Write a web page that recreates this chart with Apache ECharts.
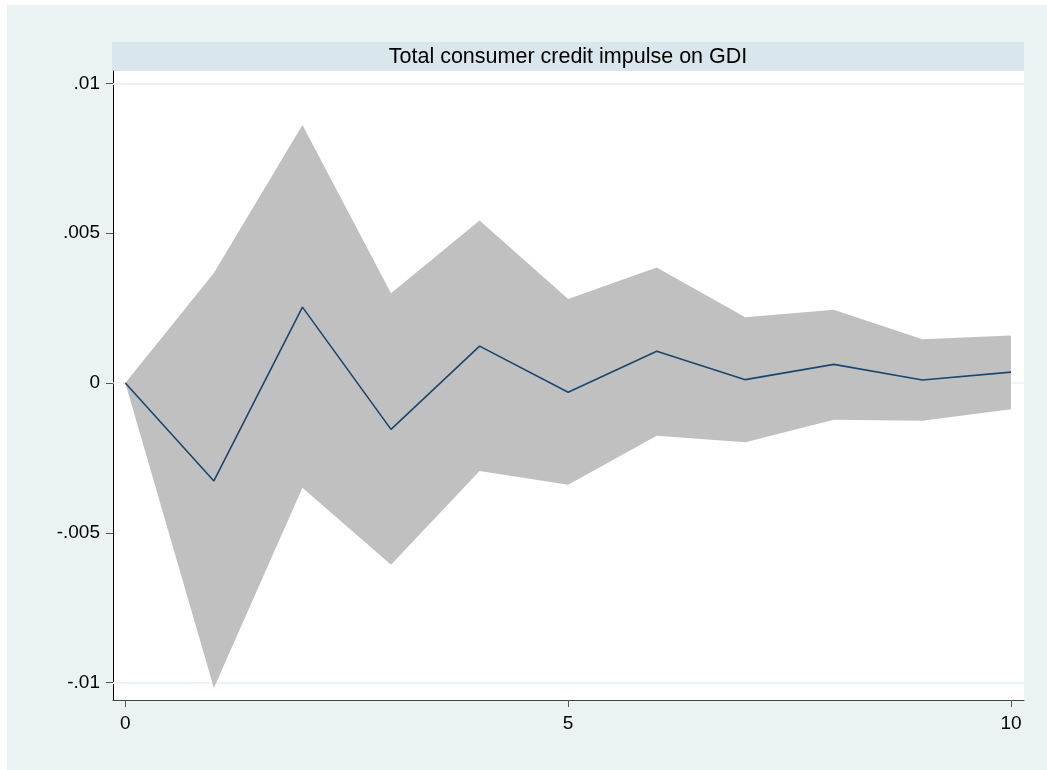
<!DOCTYPE html>
<html>
<head>
  <meta charset="UTF-8">
  <title>Total consumer credit impulse on GDI</title>
  <script src="https://cdn.jsdelivr.net/npm/echarts@6/dist/echarts.min.js"></script>
  <style>
    html, body { margin: 0; padding: 0; background: #fff; }
    #main { width: 1047px; height: 770px; }
  </style>
</head>
<body>
<div id="main"></div>
<script type="text/javascript">
  // step of the response
  var steps = [0, 1, 2, 3, 4, 5, 6, 7, 8, 9, 10];
  // impulse response (irf)
  var irf = [0, -0.00327, 0.00253, -0.00155, 0.00123, -0.00031, 0.00106, 0.00011, 0.00062, 0.0001, 0.00036];
  // confidence band
  var upper = [0, 0.00367, 0.00861, 0.00299, 0.00542, 0.0028, 0.00385, 0.00219, 0.00244, 0.00146, 0.00158];
  var lower = [0, -0.01018, -0.0035, -0.00607, -0.00294, -0.0034, -0.00176, -0.00198, -0.00123, -0.00126, -0.00088];

  var yTicks = [-0.01, -0.005, 0, 0.005, 0.01];
  var yTickLabels = ['-.01', '-.005', '0', '.005', '.01'];
  var xTicks = [0, 5, 10];
  var xTickLabels = ['0', '5', '10'];

  var font = 'Liberation Sans, Arial, Helvetica, sans-serif';

  var lineData = steps.map(function(s, i) { return [s, irf[i]]; });
  var bandData = steps.map(function(s, i) { return [s, lower[i], upper[i]]; });

  var option = {
    animation: false,
    backgroundColor: '#ffffff',
    graphic: [
      { type: 'rect', z: -10, shape: { x: 7, y: 5, width: 1040, height: 765 }, style: { fill: '#EAF2F3' } },
      { type: 'rect', z: -9, shape: { x: 112, y: 42, width: 912, height: 29 }, style: { fill: '#D9E6EB' } },
      {
        type: 'text', z: 10, x: 568, y: 57,
        style: {
          text: 'Total consumer credit impulse on GDI',
          fill: '#000', font: '21.5px ' + font,
          textAlign: 'center', textVerticalAlign: 'middle'
        }
      }
    ],
    grid: {
      left: 113, right: 23, top: 71, bottom: 70,
      show: true, backgroundColor: '#ffffff', borderWidth: 0
    },
    xAxis: {
      type: 'value',
      min: -0.139,
      max: 10.147,
      axisLine: { show: true, onZero: false, lineStyle: { color: '#444', width: 1 } },
      axisTick: { show: true, length: 7, customValues: xTicks, lineStyle: { color: '#555' } },
      axisLabel: {
        customValues: xTicks, margin: 14, color: '#000', fontSize: 19, fontFamily: font,
        formatter: function(v) { return xTickLabels[xTicks.indexOf(v)]; }
      },
      splitLine: { show: false }
    },
    yAxis: {
      type: 'value',
      min: -0.01058,
      max: 0.01041,
      axisLine: { show: true, onZero: false, lineStyle: { color: '#000', width: 1 } },
      axisTick: { show: true, length: 7, customValues: yTicks, lineStyle: { color: '#555' } },
      axisLabel: {
        customValues: yTicks, margin: 13, color: '#000', fontSize: 19, fontFamily: font,
        formatter: function(v) {
          for (var i = 0; i < yTicks.length; i++) {
            if (Math.abs(yTicks[i] - v) < 1e-9) return yTickLabels[i];
          }
          return '';
        }
      },
      splitLine: { show: false }
    },
    series: [
      {
        // gridlines
        type: 'line',
        z: 1,
        data: lineData,
        symbol: 'none',
        lineStyle: { opacity: 0 },
        silent: true,
        markLine: {
          z: 1,
          silent: true,
          symbol: 'none',
          label: { show: false },
          lineStyle: { color: '#EAF2F3', type: 'solid', width: 1.5 },
          data: yTicks.map(function(v) { return { yAxis: v }; })
        }
      },
      {
        type: 'custom',
        z: 2,
        data: bandData,
        renderItem: function(params, api) {
          if (params.dataIndex !== 0) return null;
          var pts = [];
          for (var i = 0; i < steps.length; i++) pts.push(api.coord([steps[i], upper[i]]));
          for (var j = steps.length - 1; j >= 0; j--) pts.push(api.coord([steps[j], lower[j]]));
          return { type: 'polygon', shape: { points: pts }, style: { fill: '#C0C0C0' } };
        }
      },
      {
        type: 'line',
        z: 3,
        data: lineData,
        symbol: 'none',
        lineStyle: { color: '#1A476F', width: 1.6 }
      }
    ]
  };

  var myChart = echarts.init(document.getElementById('main'));
  myChart.setOption(option);
</script>
</body>
</html>
